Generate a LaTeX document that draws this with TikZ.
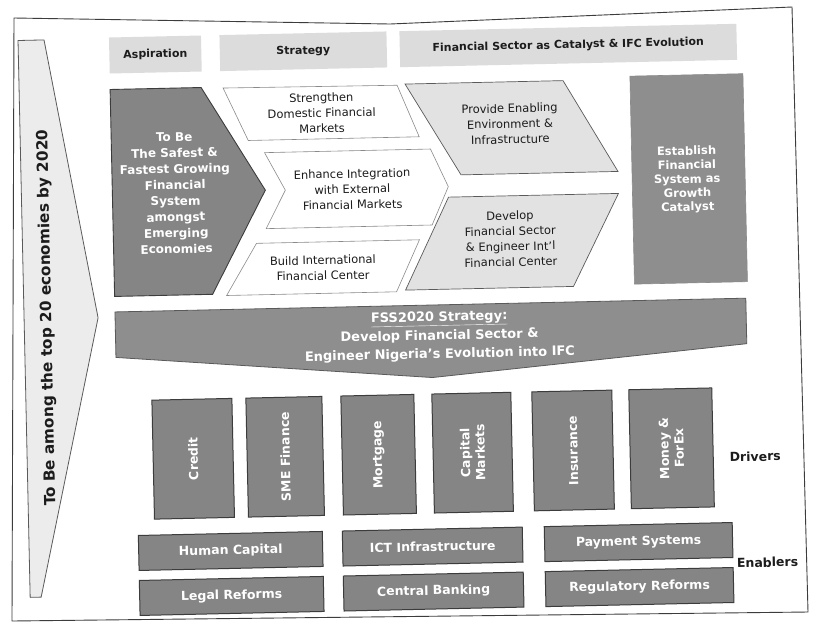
\documentclass[tikz,border=0pt]{standalone}
\usepackage{fontspec}
\setmainfont{DejaVu Sans}
\definecolor{ink}{HTML}{1C1C1C}
\definecolor{hdrfill}{HTML}{DCDCDC}
\definecolor{paleFill}{HTML}{ECECEC}
\definecolor{lightFill}{HTML}{E2E2E2}
\definecolor{darkFill}{HTML}{858585}
\definecolor{midFill}{HTML}{8E8E8E}
\definecolor{edgeDark}{HTML}{3C3C3C}
\definecolor{edgeMid}{HTML}{5A5A5A}
\definecolor{edgeLight}{HTML}{8A8A8A}
\begin{document}
\begin{tikzpicture}[x=1pt,y=-1pt,
  hdr/.style={fill=hdrfill, inner sep=0pt, minimum height=36pt, text=ink,
    font=\bfseries\fontsize{11}{13}\selectfont},
  goalshape/.style={fill=paleFill, draw=edgeMid, line width=0.8pt, line join=miter},
  darkshape/.style={fill=darkFill, draw=edgeDark, line width=0.9pt},
  whiteshape/.style={fill=white, draw=edgeLight, line width=0.6pt},
  greyshape/.style={fill=lightFill, draw=edgeMid, line width=0.7pt},
  regtext/.style={align=center, text=ink, inner sep=0pt,
    font=\fontsize{11.5}{15.5}\selectfont},
  wtext/.style={align=center, text=white, inner sep=0pt,
    font=\bfseries\fontsize{12}{16}\selectfont},
  drv/.style={fill=darkFill, draw=edgeDark, line width=1pt, rotate=90,
    minimum width=119pt, inner sep=0pt, align=center, text=white,
    font=\bfseries\fontsize{12.5}{15}\selectfont},
  enb/.style={fill=darkFill, draw=edgeDark, line width=1pt,
    minimum height=35pt, inner sep=0pt, text=white,
    font=\bfseries\fontsize{12.5}{15}\selectfont},
  sidelabel/.style={text=ink, inner sep=0pt,
    font=\bfseries\fontsize{12.5}{15}\selectfont}
]
\useasboundingbox (0,0) rectangle (819,622);
\fill[white] (0,0) rectangle (819,622);

% page frame
\draw[edgeDark, line width=0.9pt] (14,18) -- (390,24) -- (792,7) -- (808,612) -- (12,621) -- cycle;

\begin{scope}[rotate around={1.25:(410,311)}, transform shape]

% long goal arrow on the left
\draw[goalshape] (24,32) -- (50,32) -- (98,311) -- (35,589) -- (24,589) -- cycle;
\node[rotate=90, text=ink, inner sep=0pt, font=\bfseries\fontsize{15.3}{18}\selectfont]
  (goal) at (47,310) {To Be among the top 20 economies by 2020};

% column headers
\node[hdr, minimum width=92pt]  (aspiration) at (161,49) {Aspiration};
\node[hdr, minimum width=167pt] (strategy)   at (309,49) {Strategy};
\node[hdr, minimum width=337pt] (catalyst)   at (574,49) {Financial Sector as Catalyst \& IFC Evolution};

% aspiration pentagon
\draw[darkshape] (115,83) -- (206,83) -- (268,187) -- (213,290) -- (115,290) -- cycle;
\node[wtext] (aspire) at (178,188)
  {To Be\\The Safest \&\\Fastest Growing\\Financial\\System\\amongst\\Emerging\\Economies};

% strategy chevron
\draw[whiteshape] (228,84) -- (402,85) -- (423,137) -- (252,137) -- cycle;
\node[regtext] (domestic) at (326,111) {Strengthen\\Domestic Financial\\Markets};

\draw[whiteshape] (268,149.5) -- (434,149.5) -- (451,187.5) -- (434,225.5) -- (268,225.5) -- (288,187.5) -- cycle;
\node[regtext] (external) at (355,188) {Enhance Integration\\with External\\Financial Markets};

\draw[whiteshape] (258,240) -- (421,240) -- (397,291.5) -- (227,291.5) -- cycle;
\node[regtext] (ifc) at (324,266) {Build International\\Financial Center};

% catalyst chevron
\draw[greyshape] (410,84) -- (568,84) -- (621,176) -- (464,176) -- cycle;
\node[regtext] (enabling) at (514,126) {Provide Enabling\\Environment \&\\Infrastructure};

\draw[greyshape] (451,198) -- (621,198) -- (574,290) -- (406,290) -- cycle;
\node[regtext] (develop) at (512,241) {Develop\\Financial Sector\\\& Engineer Int'l\\Financial Center};

\node[fill=midFill, draw=edgeLight, line width=0.6pt, minimum width=113pt, minimum height=208pt,
  inner sep=0pt] (growthbox) at (691.5,185) {};
\node[wtext, font=\bfseries\fontsize{11.5}{14}\selectfont] (growth) at (690,186)
  {Establish\\Financial\\System as\\Growth\\Catalyst};

% FSS2020 banner
\draw[fill=midFill, draw=edgeMid, line width=0.8pt]
  (115,305.5) -- (746,305.5) -- (746,351) -- (431,378) -- (115,351) -- cycle;
\node[wtext, font=\bfseries\fontsize{13}{18.5}\selectfont] (fss) at (439,337)
  {\underline{FSS2020 Strategy:}\\Develop Financial Sector \&\\Engineer Nigeria's Evolution into IFC};

% drivers
\node[drv, minimum height=80pt] (credit)    at (190,454)   {Credit};
\node[drv, minimum height=76pt] (sme)       at (282,454)   {SME Finance};
\node[drv, minimum height=73pt] (mortgage)  at (375.5,454) {Mortgage};
\node[drv, minimum height=79pt] (capital)   at (469.5,454) {Capital\\Markets};
\node[drv, minimum height=80pt] (insurance) at (570,454)   {Insurance};
\node[drv, minimum height=83pt] (forex)     at (668.5,454) {Money \&\\ForEx};
\node[sidelabel] (drivers) at (752,464) {Drivers};

% enablers
\node[enb, minimum width=184pt] (human)   at (225.5,547) {Human Capital};
\node[enb, minimum width=184pt] (legal)   at (225.5,592) {Legal Reforms};
\node[enb, minimum width=180pt] (ict)     at (427.5,547) {ICT Infrastructure};
\node[enb, minimum width=180pt] (central) at (427.5,592) {Central Banking};
\node[enb, minimum width=188pt] (payment) at (633.5,547) {Payment Systems};
\node[enb, minimum width=188pt] (regul)   at (633.5,592) {Regulatory Reforms};
\node[sidelabel] (enablers) at (762,570) {Enablers};

\end{scope}
\end{tikzpicture}
\end{document}
